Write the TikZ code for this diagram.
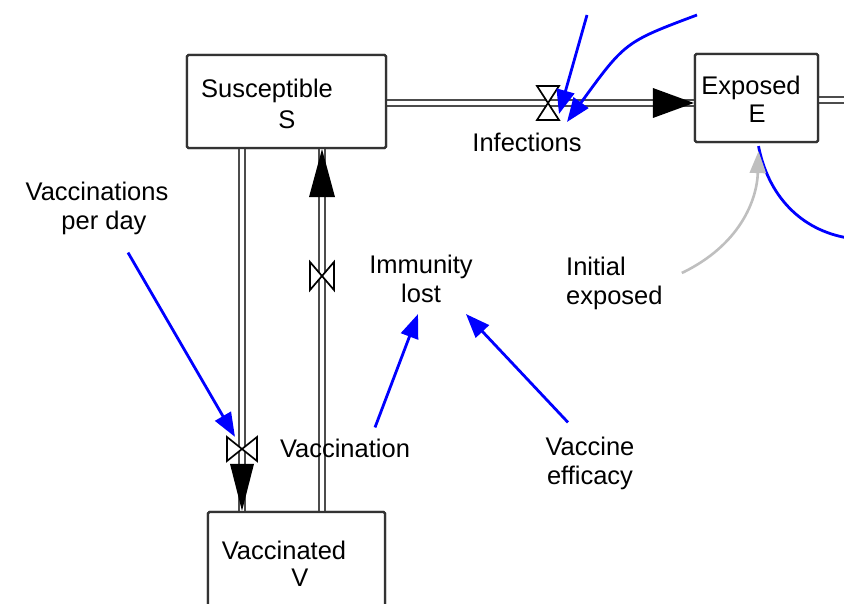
\documentclass[tikz,border=0pt]{standalone}
\usepackage{fontspec}
\setmainfont{Liberation Sans}
\usetikzlibrary{arrows.meta,calc}
\begin{document}
\begin{tikzpicture}[x=1pt,y=-1pt,
  txt/.style={font=\fontsize{25.5}{29}\selectfont, inner sep=1pt, text=black},
  stock/.style={draw=black!80, line width=2.2pt, rounded corners=1.5pt, fill=white, inner sep=0pt},
  pipe/.style={draw=black!70, line width=2.3pt, double=white, double distance=4.2pt},
  flowhead/.style={fill=black},
  valvestyle/.style={draw=black, line width=1.7pt, fill=white, line join=miter},
  link/.style={draw=blue, line width=2.8pt, -{Triangle[length=24pt,width=18pt]}},
  greylink/.style={draw=black!25, line width=2.6pt, -{Triangle[length=22pt,width=16pt]}},
  plainlink/.style={draw=blue, line width=2.8pt},
]
\useasboundingbox (0,0) rectangle (844,604);

% valve and free-end coordinates
\coordinate (vI) at (548,103);
\coordinate (vSV) at (242,449);
\coordinate (vVS) at (322,276);
\coordinate (eout) at (850,100);
\coordinate (tA) at (587,15);
\coordinate (tB) at (697,15);
\coordinate (eB) at (848,238);

% stocks (shapes only, for anchors)
\path (286.5,101.5) node[stock, minimum width=199pt, minimum height=93pt] (S) {};
\path (756.5,98) node[stock, minimum width=123pt, minimum height=88pt] (E) {};
\path (296.5,567) node[stock, minimum width=177pt, minimum height=110pt] (V) {};

% pipes
\draw[pipe] (S.east |- vI) -- (E.west |- vI);
\draw[pipe] (E.east |- eout) -- (eout);
\draw[pipe] (S.south -| vSV) -- (V.north -| vSV);
\draw[pipe] (V.north -| vVS) -- (S.south -| vVS);

% redraw stocks on top of pipe ends
\path (286.5,101.5) node[stock, minimum width=199pt, minimum height=93pt] {};
\path (756.5,98) node[stock, minimum width=123pt, minimum height=88pt] {};
\path (296.5,567) node[stock, minimum width=177pt, minimum height=110pt] {};

% flow arrowheads
\fill[flowhead] (E.west |- vI) -- ++(-41,-15) -- ++(0,30) -- cycle;
\fill[flowhead] (V.north -| vSV) -- ++(-12,-47) -- ++(24,0) -- cycle;
\fill[flowhead] (S.south -| vVS) -- ++(-13,48) -- ++(26,0) -- cycle;

% valves
\draw[valvestyle] (vI) -- ++(-11,-17) -- ++(22,0) -- cycle
                  (vI) -- ++(-11,17) -- ++(22,0) -- cycle;
\draw[valvestyle] (vSV) -- ++(-15,-12) -- ++(0,24) -- cycle
                  (vSV) -- ++(15,-12) -- ++(0,24) -- cycle;
\draw[valvestyle] (vVS) -- ++(-12,-14) -- ++(0,28) -- cycle
                  (vVS) -- ++(12,-14) -- ++(0,28) -- cycle;

% stock labels
\node[txt] (Sname) at (267,91) {Susceptible};
\node[txt] (Slet) at (287,120) {S};
\node[txt] (Ename) at (751,88) {Exposed};
\node[txt] (Elet) at (757,114) {E};
\node[txt] (Vname) at (284,550) {Vaccinated};
\node[txt] (Vlet) at (300,578) {V};

% auxiliary labels
\node[txt] (inf) at (527,142) {Infections};
\node[txt, align=center] (vpd) at (97,208) {Vaccinations\\\hspace*{14pt}per day};
\node[txt, align=center] (imm) at (421,279) {Immunity\\lost};
\node[txt] (vac) at (345,448) {Vaccination};
\node[txt, align=center] (eff) at (590,463) {Vaccine\\efficacy};
\node[txt, align=left, anchor=west] (iexp) at (565,283) {Initial\\exposed};

% information links
\draw[link, shorten >=14pt] ($(vpd.south)+(31,17)$) -- (vSV);
\draw[link] ($(vac.north)+(30,-10)$) -- ($(imm.south)+(-3,10)$);
\draw[link] ($(eff.north)+(-22,-13)$) -- ($(imm.south)+(45,10)$);
\draw[link] (tA) -- ($(vI)+(11,11)$);
\draw[link] (tB) .. controls (625,42) .. ($(vI)+(19,19)$);
\draw[plainlink] ($(E.south)+(2,3)$) .. controls (768,195) and (800,230) .. (eB);
\draw[greylink] ($(iexp.east)+(18,-10)$) .. controls (740,245) and (757,200) .. ($(E.south)+(2,8)$);
\end{tikzpicture}
\end{document}
